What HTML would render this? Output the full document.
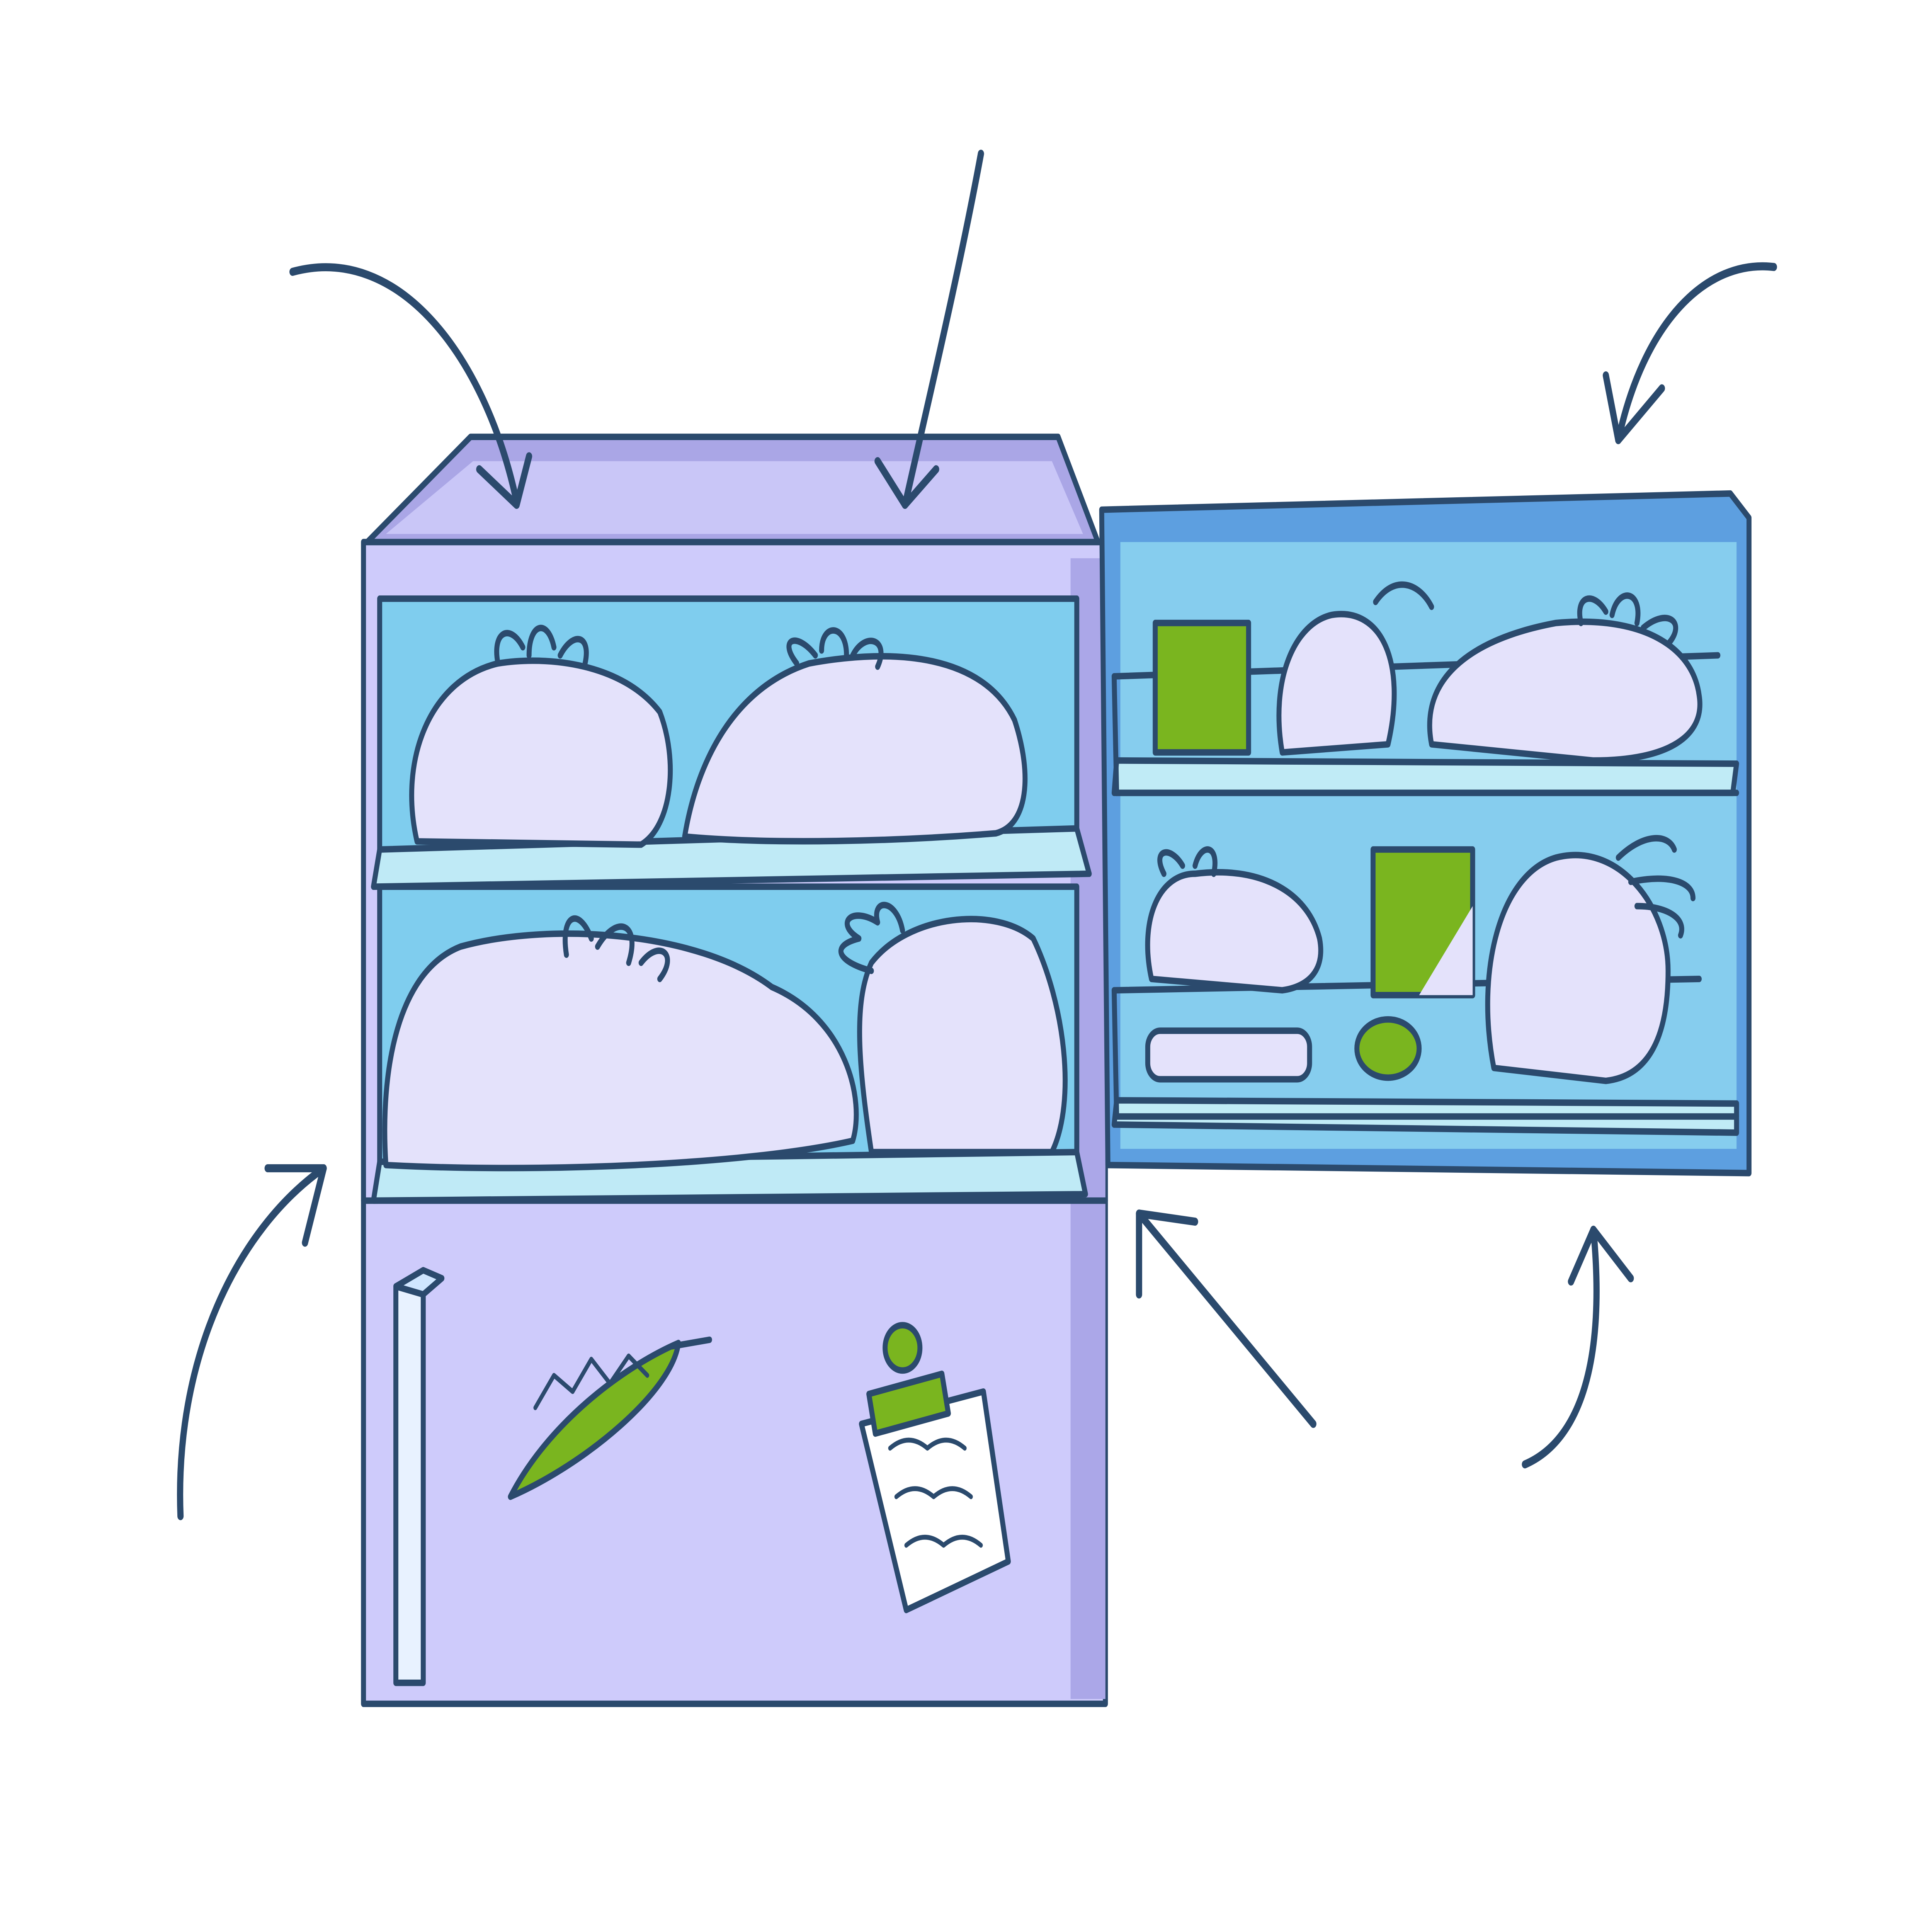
<!DOCTYPE html>
<html><head><style>html,body{margin:0;padding:0;background:#fff;overflow:hidden;width:100%;height:100%}#w{position:fixed;left:0;top:0;width:100vw;height:100vh}svg{display:block;width:100%;height:100%}</style></head>
<body>
<div id="w">
<svg viewBox="0 0 1552 1194" preserveAspectRatio="none" xmlns="http://www.w3.org/2000/svg">
<rect width="1552" height="1194" fill="#fff"/>
<g stroke="#2b4a6d" stroke-width="4" stroke-linecap="round" stroke-linejoin="round">
<polygon points="295,335 378,270 850,270 882,335" fill="#aaa6e6"/>
<polygon points="310,330 380,285 845,285 870,330" fill="#c9c6f7" stroke="none"/>
<rect x="292" y="335" width="596" height="718" fill="#cecbfb"/>
<rect x="860" y="345" width="28" height="705" fill="#aba7e8" stroke="none"/>
<rect x="305" y="370" width="560" height="155" fill="#7fcdee"/>
<rect x="305" y="548" width="560" height="178" fill="#7fcdee"/>
<polygon points="305,525 865,512 875,540 300,548" fill="#bfeaf6"/>
<polygon points="305,718 865,712 872,738 300,742" fill="#bfeaf6"/>
<line x1="292" y1="742" x2="888" y2="742"/>
<path d="M335,520 C320,470 345,420 400,410 C440,405 500,410 530,440 C545,470 540,510 515,522 Z" fill="#e4e2fb"/>
<path d="M400,410 C395,390 410,385 420,400 M425,405 C425,385 440,382 445,400 M450,405 C460,390 475,392 470,410" fill="none"/>
<path d="M550,517 C560,470 590,425 650,410 C720,400 790,405 815,445 C830,480 825,510 800,515 C720,520 620,522 550,517 Z" fill="#e4e2fb"/>
<path d="M640,410 C625,395 640,390 655,405 M660,402 C660,385 680,385 680,405 M685,405 C695,390 715,395 705,412" fill="none"/>
<path d="M310,720 C305,660 320,600 370,585 C440,570 560,575 620,610 C680,630 695,680 685,705 C600,720 430,725 310,720 Z" fill="#e4e2fb"/>
<path d="M455,590 C450,565 465,560 475,580 M480,585 C495,565 515,570 505,595 M515,595 C530,580 545,590 530,605" fill="none"/>
<path d="M700,712 C690,660 685,620 700,595 C730,565 800,560 830,580 C855,620 865,680 845,712 Z" fill="#e4e2fb"/>
<path d="M700,600 C675,595 665,585 690,580 C670,570 685,560 705,570 C700,555 720,555 725,575" fill="none"/>
<rect x="318" y="795" width="22" height="245" fill="#e8f2ff"/>
<polygon points="318,795 340,785 355,790 340,800" fill="#cfe6ff"/>
<path d="M410,925 C440,880 500,845 545,830 C540,860 470,905 410,925 Z" fill="#7ab51f"/>
<path d="M430,870 L445,850 L460,860 L475,840 L490,855 L505,838 L520,850" fill="none" stroke-width="3"/>
<line x1="540" y1="832" x2="570" y2="828"/>
<polygon points="692,880 790,860 810,965 728,995" fill="#fff"/>
<rect x="700" y="855" width="60" height="25" fill="#7ab51f" transform="rotate(-12 730 868)"/>
<circle cx="725" cy="833" r="14" fill="#7ab51f"/>
<path d="M715,895 q15,-10 30,0 q15,-10 30,0 M720,925 q15,-10 30,0 q15,-10 30,0 M728,955 q15,-10 30,0 q15,-10 30,0" fill="none" stroke-width="3"/>
<polygon points="885,315 1390,305 1405,320 1405,725 890,720" fill="#5d9fe0"/>
<rect x="900" y="335" width="495" height="375" fill="#86cdee" stroke="none"/>
<polygon points="897,470 1395,472 1392,490 895,490" fill="#c0ebf6"/>
<polygon points="897,680 1395,682 1395,700 895,695" fill="#c0ebf6"/>
<line x1="895" y1="418" x2="1380" y2="405"/>
<line x1="895" y1="418" x2="897" y2="490"/>
<line x1="895" y1="612" x2="1365" y2="605"/>
<line x1="895" y1="612" x2="897" y2="690"/>
<line x1="897" y1="490" x2="1395" y2="490"/>
<line x1="897" y1="690" x2="1395" y2="690"/>
<rect x="928" y="385" width="75" height="80" fill="#7ab51f"/>
<path d="M1030,465 C1020,420 1040,385 1070,380 C1110,375 1130,410 1115,460 Z" fill="#e4e2fb"/>
<path d="M1105,372 C1120,355 1140,360 1150,375" fill="none"/>
<path d="M1150,460 C1140,420 1180,395 1250,385 C1320,380 1360,400 1365,430 C1370,455 1340,470 1280,470 Z" fill="#e4e2fb"/>
<path d="M1270,385 C1265,368 1280,365 1290,378 M1295,380 C1300,362 1320,365 1315,385 M1320,388 C1340,375 1355,385 1340,398" fill="none"/>
<path d="M925,605 C915,570 930,540 960,540 C1010,535 1050,550 1060,580 C1065,600 1050,610 1030,612 Z" fill="#e4e2fb"/>
<path d="M935,540 C925,525 940,522 950,535 M960,535 C965,520 980,522 975,540" fill="none"/>
<rect x="1103" y="525" width="80" height="90" fill="#7ab51f"/>
<polygon points="1140,615 1183,560 1183,615" fill="#e4e2fb" stroke="none"/>
<path d="M1200,660 C1185,600 1205,540 1250,530 C1300,520 1340,560 1340,600 C1340,640 1325,665 1290,668 Z" fill="#e4e2fb"/>
<path d="M1300,530 C1320,515 1340,515 1345,525 M1310,545 C1340,540 1360,545 1360,555 M1315,560 C1340,560 1355,568 1350,578" fill="none"/>
<rect x="922" y="637" width="130" height="30" rx="10" fill="#e4e2fb"/>
<ellipse cx="1115" cy="648" rx="25" ry="18" fill="#7ab51f"/>
</g>
<g stroke="#2b4a6d" stroke-width="5" fill="none" stroke-linecap="round" stroke-linejoin="round">
<path d="M235,168 C320,150 390,220 415,310"/>
<path d="M385,290 L415,312 L425,282"/>
<path d="M788,95 C770,170 745,250 727,312"/>
<path d="M705,285 L727,312 L752,290"/>
<path d="M1425,165 C1370,160 1320,200 1300,272"/>
<path d="M1290,232 L1300,272 L1335,240"/>
<path d="M145,937 C140,840 190,760 260,722"/>
<path d="M215,722 L260,722 L245,768"/>
<path d="M1055,880 L915,750"/>
<path d="M915,800 L915,750 L960,755"/>
<path d="M1225,905 C1270,890 1290,840 1280,760"/>
<path d="M1262,792 L1280,760 L1310,790"/>
</g>
</svg>
</div>
</body></html>
